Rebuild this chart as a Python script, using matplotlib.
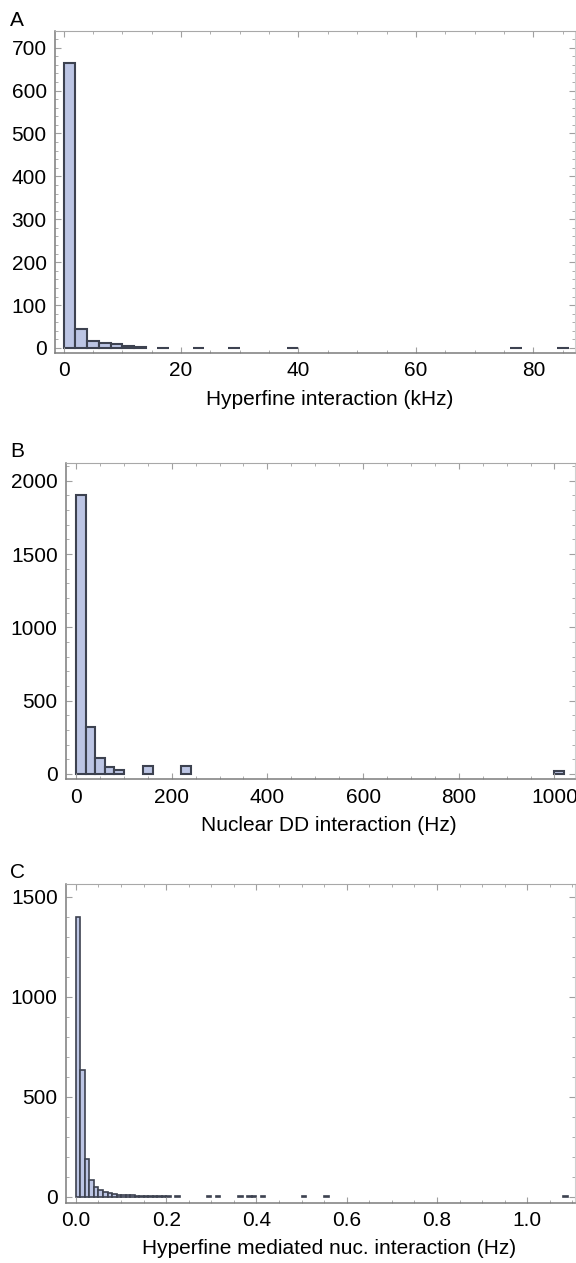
import matplotlib
matplotlib.use("Agg")
import matplotlib.pyplot as plt
from matplotlib.ticker import MultipleLocator, FormatStrFormatter

plt.rcParams['font.family'] = ['Liberation Sans', 'DejaVu Sans']

# Panel A: hyperfine interaction (kHz), bin width 2
a_left = [0, 2, 4, 6, 8, 10, 12, 16, 22, 28, 38, 76, 84]
a_counts = [665, 44, 16, 12, 9, 4, 2, 1, 1, 1, 1, 1, 1]
a_width = 2

# Panel B: nuclear DD interaction (Hz), bin width 20
b_left = [0, 20, 40, 60, 80, 140, 220, 1000]
b_counts = [1900, 323, 107, 46, 27, 57, 52, 20]
b_width = 20

# Panel C: hyperfine mediated nuclear interaction (Hz), bin width 0.01
c_left = [0.00, 0.01, 0.02, 0.03, 0.04, 0.05, 0.06, 0.07, 0.08, 0.09,
          0.10, 0.11, 0.12, 0.13, 0.14, 0.15, 0.16, 0.17, 0.18, 0.19,
          0.20, 0.22, 0.29, 0.31, 0.36, 0.38, 0.39, 0.41, 0.50, 0.55, 1.08]
c_counts = [1400, 632, 187, 83, 47, 33, 23, 17, 13, 10,
            9, 8, 7, 6, 5, 5, 4, 4, 3, 3,
            2, 2, 2, 2, 2, 2, 2, 2, 2, 2, 2]
c_width = 0.01

FACE = '#bcc5e4'
EDGE = '#3d4250'
FS = 15


def style_axes(ax, xmaj, xmin, ymaj, ymin):
    for side in ('left', 'bottom'):
        ax.spines[side].set_color('#7c7c7c')
        ax.spines[side].set_linewidth(1.1)
    ax.spines['top'].set_color('#a8a8a8')
    ax.spines['right'].set_color('#d0d0d0')
    ax.xaxis.set_major_locator(MultipleLocator(xmaj))
    ax.xaxis.set_minor_locator(MultipleLocator(xmin))
    ax.yaxis.set_major_locator(MultipleLocator(ymaj))
    ax.yaxis.set_minor_locator(MultipleLocator(ymin))
    ax.tick_params(which='both', direction='in', top=True, right=True,
                   color='#a0a0a0', labelsize=FS)
    ax.tick_params(which='major', length=4, width=0.8, pad=6)
    ax.tick_params(which='minor', length=2, width=0.6)


fig = plt.figure(figsize=(5.76, 12.63), dpi=100)

# A
ax1 = fig.add_axes([0.0955, 0.7205, 0.9028, 0.255])
ax1.bar(a_left, a_counts, width=a_width, align='edge',
        color=FACE, edgecolor=EDGE, linewidth=1.5)
ax1.set_xlim(-1.45, 87.1)
ax1.set_ylim(-11.7, 739)
style_axes(ax1, 20, 5, 100, 20)
ax1.set_xlabel('Hyperfine interaction (kHz)', fontsize=FS)
ax1.xaxis.set_label_coords(0.529, -0.115)
fig.text(0.017, 0.984, 'A', fontsize=FS, va='center', ha='left')

# B
ax2 = fig.add_axes([0.1146, 0.383, 0.8837, 0.2504])
ax2.bar(b_left, b_counts, width=b_width, align='edge',
        color=FACE, edgecolor=EDGE, linewidth=1.5)
ax2.set_xlim(-21, 1043)
ax2.set_ylim(-36, 2121)
style_axes(ax2, 200, 50, 500, 100)
ax2.set_xlabel('Nuclear DD interaction (Hz)', fontsize=FS)
ax2.xaxis.set_label_coords(0.516, -0.115)
fig.text(0.017, 1 - 452 / 1263, 'B', fontsize=FS, va='center', ha='left')

# C
ax3 = fig.add_axes([0.1146, 0.0477, 0.8837, 0.2523])
ax3.bar(c_left, c_counts, width=c_width, align='edge',
        color=FACE, edgecolor=EDGE, linewidth=1.2)
ax3.set_xlim(-0.022, 1.106)
ax3.set_ylim(-30, 1563)
style_axes(ax3, 0.2, 0.05, 500, 100)
ax3.xaxis.set_major_formatter(FormatStrFormatter('%.1f'))
ax3.set_xlabel('Hyperfine mediated nuc. interaction (Hz)', fontsize=FS)
ax3.xaxis.set_label_coords(0.516, -0.115)
fig.text(0.017, 1 - 873 / 1263, 'C', fontsize=FS, va='center', ha='left')

fig.savefig('out.png', dpi=100)
